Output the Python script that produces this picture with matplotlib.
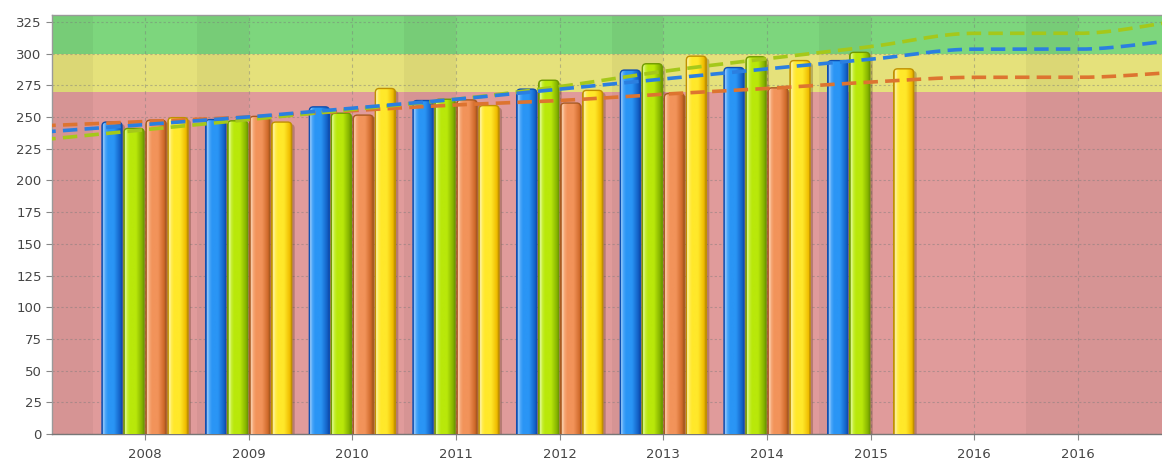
import numpy as np
import matplotlib
matplotlib.use("Agg")
import matplotlib.pyplot as plt
from matplotlib.patches import FancyBboxPatch
from matplotlib.colors import to_rgb

# ---------------- data ----------------
categories = ["2008", "2009", "2010", "2011", "2012", "2013", "2014", "2015", "2016", "2016"]
blue_values = [246, 248, 258, 263, 272, 287, 289, 294.5]
green_values = [241, 247, 253, 264, 279, 292, 297.5, 301]
orange_values = [247.5, 250.5, 251.5, 263.5, 261, 268.5, 273, None]
yellow_values = [249.5, 246, 272.5, 259, 271, 298, 294.5, 288]

# trend lines, values at category positions -1 .. 10
trend_blue = [238, 244, 250, 257, 264, 272, 280, 288, 295.5, 303.5, 303.5, 311]
trend_green = [232, 240, 248, 256, 264, 274, 286, 296, 305.5, 316, 316, 326]
trend_orange = [243, 246.5, 250, 255, 259.5, 263, 268, 272.5, 277.5, 281.3, 281.3, 285.5]

zone_limits = [0, 270, 300, 400]
y_ticks = list(range(0, 326, 25))

# ---------------- styles ----------------
W, H = 1162, 461
bar_colors = {
    "blue": ("#0f4fb0", "#9fd0ff", "#2a95f5", "#1463c8"),
    "green": ("#6f9a00", "#e8ffa0", "#b9e80a", "#86b400"),
    "orange": ("#a85a20", "#ffd8b8", "#f2935a", "#d06a2a"),
    "yellow": ("#c09000", "#fff6b0", "#ffe82a", "#f0bc00"),
}
line_colors = {"blue": "#2b7fe0", "green": "#a5c81a", "orange": "#dd7430"}
zone_colors = ["#e09b9b", "#e5e17b", "#7dd67d"]

fig = plt.figure(figsize=(W / 100, H / 100), dpi=100)
ax = fig.add_axes([52 / W, 1 - 434 / H, 1 - 52 / W, (434 - 15) / H])

cat_px = 103.67
x0_px = 145
xmin = (52 - x0_px) / cat_px
xmax = (W - x0_px) / cat_px
ymax = (434 - 15) * 25 / 31.7
ax.set_xlim(xmin, xmax)
ax.set_ylim(0, ymax)

# zones
for (lo, hi), c in zip(zip(zone_limits[:-1], zone_limits[1:]), zone_colors):
    ax.axhspan(lo, hi, color=c, zorder=0, lw=0)
# darker vertical bands
ax.axvspan(xmin, -0.5, color="black", alpha=0.045, zorder=0.5, lw=0)
for k in range(1, 11, 2):
    ax.axvspan(k - 0.5, k, color="black", alpha=0.045, zorder=0.5, lw=0)
ax.axvspan(9, xmax, ymin=0, ymax=270 / ymax, color="black", alpha=0.045, zorder=0.5, lw=0)

# grid
for yv in y_ticks:
    ax.axhline(yv, color="#7a7a7a", lw=0.8, ls=(0, (2, 2)), alpha=0.45, zorder=1)
for i in range(len(categories)):
    ax.axvline(i, color="#7a7a7a", lw=0.8, ls=(0, (3, 3)), alpha=0.45, zorder=1)

# bars
px_x = 1 / cat_px               # data units per pixel, x
px_y = 25 / 31.7                # data units per pixel, y
bar_w = 20 * px_x
step = 22 * px_x
aspect = px_y / px_x


def gradient_row(edge, hi, base, dark):
    e, h, b, d = map(np.array, map(to_rgb, (edge, hi, base, dark)))
    stops = [(0.0, e), (0.06, h), (0.16, h * 0.3 + b * 0.7), (0.3, b), (0.6, b),
             (0.9, d), (1.0, e)]
    xs = np.linspace(0, 1, 64)
    row = np.zeros((1, 64, 3))
    for ch in range(3):
        row[0, :, ch] = np.interp(xs, [s[0] for s in stops], [s[1][ch] for s in stops])
    return row


series = [("blue", blue_values), ("green", green_values),
          ("orange", orange_values), ("yellow", yellow_values)]
for si, (name, vals) in enumerate(series):
    edge, hi, base, dark = bar_colors[name]
    img = gradient_row(edge, hi, base, dark)
    for ci, v in enumerate(vals):
        if v is None:
            continue
        left = ci + (si - 1.5) * step - bar_w / 2
        bottom = -6
        r = 4 * px_x
        # shadow
        sh = FancyBboxPatch((left + 3 * px_x, bottom), bar_w, v - bottom - 2 * px_y,
                            boxstyle=f"round,pad=0,rounding_size={r}",
                            mutation_aspect=aspect, fc="#4a2a10", ec="none",
                            alpha=0.28, zorder=2)
        ax.add_patch(sh)
        patch = FancyBboxPatch((left, bottom), bar_w, v - bottom,
                               boxstyle=f"round,pad=0,rounding_size={r}",
                               mutation_aspect=aspect, fc="none", ec=edge,
                               lw=1.0, zorder=3.1)
        ax.add_patch(patch)
        im = ax.imshow(img, extent=(left, left + bar_w, bottom, v), aspect="auto",
                       interpolation="bilinear", zorder=3)
        im.set_clip_path(patch)

# trend lines (monotone cubic through the category points)
def monotone(xs, ys, n=40):
    xs = np.asarray(xs, float)
    ys = np.asarray(ys, float)
    h = np.diff(xs)
    d = np.diff(ys) / h
    m = np.zeros_like(ys)
    m[0], m[-1] = d[0], d[-1]
    for i in range(1, len(ys) - 1):
        if d[i - 1] * d[i] <= 0:
            m[i] = 0
        else:
            m[i] = 2 / (1 / d[i - 1] + 1 / d[i])
    px, py = [], []
    for i in range(len(h)):
        t = np.linspace(0, 1, n)
        h00 = 2 * t**3 - 3 * t**2 + 1
        h10 = t**3 - 2 * t**2 + t
        h01 = -2 * t**3 + 3 * t**2
        h11 = t**3 - t**2
        px.extend(xs[i] + t * h[i])
        py.extend(h00 * ys[i] + h10 * h[i] * m[i] + h01 * ys[i + 1] + h11 * h[i] * m[i + 1])
    return np.array(px), np.array(py)


tx = np.arange(-1, len(categories) + 1)
for name, tv in [("orange", trend_orange), ("green", trend_green), ("blue", trend_blue)]:
    lx, ly = monotone(tx, tv)
    ax.plot(lx, ly, color=line_colors[name], lw=2.6, ls=(0, (4, 2)),
            zorder=4, solid_capstyle="butt")

# axes styling
ax.set_xticks(range(len(categories)))
ax.set_xticklabels(categories)
ax.set_yticks(y_ticks)
ax.tick_params(axis="both", colors="#888888", labelcolor="#444444", labelsize=9.5,
               length=4, width=0.8, direction="out")
for s in ["left", "bottom", "top"]:
    ax.spines[s].set_color("#9a9a9a")
    ax.spines[s].set_linewidth(1.0)
ax.spines["right"].set_visible(False)
ax.spines["bottom"].set_color("#777777")
ax.tick_params(axis="x", pad=6)

fig.savefig("out.png", dpi=100)
